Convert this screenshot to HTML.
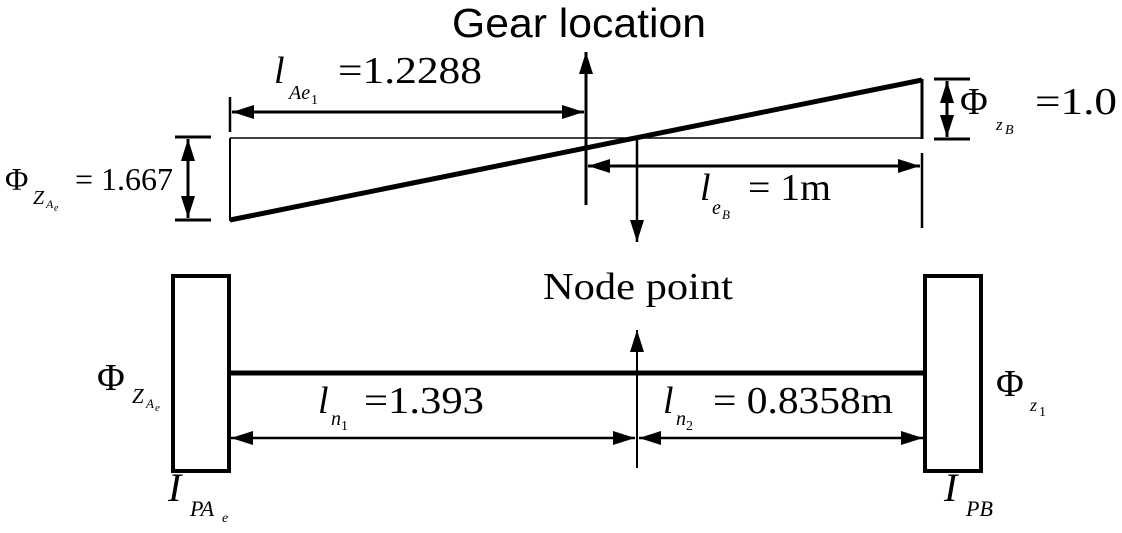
<!DOCTYPE html>
<html><head><meta charset="utf-8"><style>
html,body{margin:0;padding:0;background:#fff;}
svg{display:block;}
.s{font-family:"Liberation Serif",serif;fill:#000;}
.i{font-family:"Liberation Serif",serif;font-style:italic;fill:#000;}
</style></head><body>
<svg width="1122" height="533" viewBox="0 0 1122 533" xmlns="http://www.w3.org/2000/svg">
<defs>
<marker id="b" markerWidth="22" markerHeight="14" refX="22" refY="7" orient="auto-start-reverse" markerUnits="userSpaceOnUse" viewBox="0 0 22 14">
<path d="M0,0 L22,7 L0,14 z" fill="#000"/></marker>
</defs>
<g stroke="#000" fill="none">
<line x1="230" y1="138" x2="922" y2="138" stroke-width="1.5"/>
<line x1="230" y1="138" x2="230" y2="221" stroke-width="2"/>
<line x1="230" y1="220" x2="922" y2="80" stroke-width="5"/>
<line x1="922" y1="79" x2="922" y2="139" stroke-width="3"/>
<line x1="230" y1="97" x2="230" y2="132" stroke-width="2.5"/>
<line x1="232" y1="112" x2="584" y2="112" stroke-width="3" marker-start="url(#b)" marker-end="url(#b)"/>
<line x1="586" y1="205" x2="586" y2="52" stroke-width="3" marker-end="url(#b)"/>
<line x1="175" y1="137" x2="211" y2="137" stroke-width="3"/>
<line x1="175" y1="220" x2="211" y2="220" stroke-width="3"/>
<line x1="188" y1="139" x2="188" y2="218" stroke-width="3" marker-start="url(#b)" marker-end="url(#b)"/>
<line x1="934" y1="79" x2="970" y2="79" stroke-width="3"/>
<line x1="934" y1="139" x2="970" y2="139" stroke-width="3"/>
<line x1="947" y1="81" x2="947" y2="137" stroke-width="3" marker-start="url(#b)" marker-end="url(#b)"/>
<line x1="922" y1="153" x2="922" y2="228" stroke-width="2.5"/>
<line x1="588" y1="166" x2="920" y2="166" stroke-width="3" marker-start="url(#b)" marker-end="url(#b)"/>
<line x1="637" y1="139" x2="637" y2="242" stroke-width="2.5" marker-end="url(#b)"/>
<rect x="173" y="276" width="56" height="195" stroke-width="4"/>
<rect x="925" y="276" width="56" height="195" stroke-width="4"/>
<line x1="229" y1="373" x2="925" y2="373" stroke-width="5"/>
<line x1="637" y1="468" x2="637" y2="330" stroke-width="2" marker-end="url(#b)"/>
<line x1="231" y1="438" x2="635" y2="438" stroke-width="2.5" marker-start="url(#b)" marker-end="url(#b)"/>
<line x1="639" y1="438" x2="923" y2="438" stroke-width="2.5" marker-start="url(#b)" marker-end="url(#b)"/>
</g>
<text x="452" y="37" font-family="Liberation Sans, sans-serif" font-size="41" textLength="254" lengthAdjust="spacingAndGlyphs">Gear location</text>
<text class="s" x="543" y="299" font-size="38" textLength="190" lengthAdjust="spacingAndGlyphs">Node point</text>
<text class="i" x="274" y="83" font-size="38">l</text>
<text class="i" x="289" y="99" font-size="20">Ae</text>
<text class="s" x="311" y="104" font-size="14">1</text>
<text class="s" x="338" y="83" font-size="38" textLength="144" lengthAdjust="spacingAndGlyphs">=1.2288</text>
<text class="s" x="5" y="190" font-size="32">Φ</text>
<text class="i" x="33" y="204" font-size="20">Z</text>
<text class="i" x="46" y="208" font-size="12">A</text>
<text class="i" x="54" y="211" font-size="10">e</text>
<text class="s" x="75" y="190" font-size="32" textLength="98" lengthAdjust="spacingAndGlyphs">= 1.667</text>
<text class="s" x="960" y="114" font-size="38">Φ</text>
<text class="i" x="996" y="130" font-size="17">z</text>
<text class="i" x="1005" y="134" font-size="14">B</text>
<text class="s" x="1035" y="114" font-size="38" textLength="82" lengthAdjust="spacingAndGlyphs">=1.0</text>
<text class="i" x="700" y="200" font-size="38">l</text>
<text class="i" x="712" y="214" font-size="20">e</text>
<text class="i" x="722" y="219" font-size="13">B</text>
<text class="s" x="748" y="200" font-size="38" textLength="83" lengthAdjust="spacingAndGlyphs">= 1m</text>
<text class="i" x="318" y="413" font-size="38">l</text>
<text class="i" x="331" y="425" font-size="20">n</text>
<text class="s" x="341" y="430" font-size="14">1</text>
<text class="s" x="364" y="413" font-size="38" textLength="120" lengthAdjust="spacingAndGlyphs">=1.393</text>
<text class="i" x="663" y="413" font-size="38">l</text>
<text class="i" x="676" y="425" font-size="20">n</text>
<text class="s" x="686" y="430" font-size="14">2</text>
<text class="s" x="713" y="413" font-size="38" textLength="180" lengthAdjust="spacingAndGlyphs">= 0.8358m</text>
<text class="s" x="97" y="390" font-size="38">Φ</text>
<text class="i" x="132" y="403" font-size="21">Z</text>
<text class="i" x="146" y="408" font-size="13">A</text>
<text class="i" x="155" y="411" font-size="11">e</text>
<text class="s" x="996" y="396" font-size="38">Φ</text>
<text class="i" x="1030" y="411" font-size="18">z</text>
<text class="s" x="1039" y="416" font-size="14">1</text>
<text class="i" x="168" y="501" font-size="40">I</text>
<text class="i" x="190" y="516" font-size="22">PA</text>
<text class="i" x="222" y="522" font-size="14">e</text>
<text class="i" x="944" y="501" font-size="40">I</text>
<text class="i" x="966" y="516" font-size="22">PB</text>
</svg>
</body></html>
